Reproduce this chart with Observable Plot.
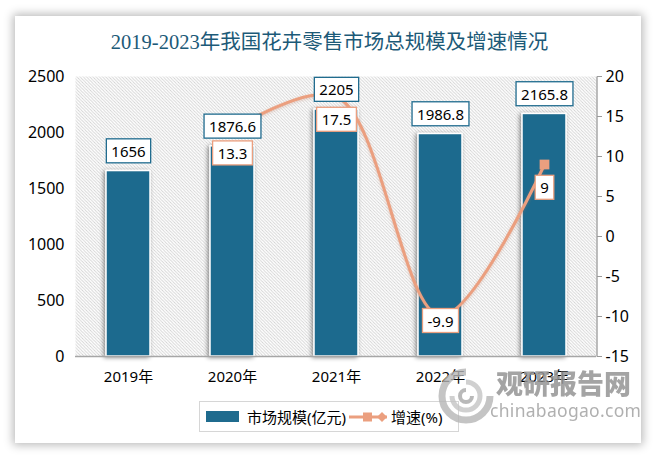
<!DOCTYPE html>
<html>
<head>
<meta charset="utf-8">
<script src="https://cdn.jsdelivr.net/npm/d3@7"></script>
<script src="https://cdn.jsdelivr.net/npm/@observablehq/plot@0.6"></script>
<style>
  html, body { margin: 0; padding: 0; background: #ffffff; }
  body { width: 659px; height: 458px; position: relative; overflow: hidden; font-family: "Noto Sans", "Noto Sans CJK SC", sans-serif; }
  #card { position: absolute; left: 15px; top: 16px; width: 626px; height: 427px; background: #fff; box-shadow: 0 0 9px 2px rgba(0,0,0,0.28); }
  #title { position: absolute; left: 0; top: 29px; width: 659px; text-align: center; font-family: "Liberation Serif", "Noto Sans CJK SC", serif; font-size: 20.5px; line-height: 26px; color: #1c5a78; }
  #chart { position: absolute; left: 0; top: 0; }
  #legend { position: absolute; left: 199px; top: 401px; width: 258px; height: 29px; border: 1px solid #d6d6d6; display: flex; align-items: center; font-size: 15px; color: #000; font-family: "Noto Sans", "Noto Sans CJK SC", sans-serif; }
  #legend .sw { width: 33px; height: 11px; background: #1f6b8e; margin-left: 6px; margin-right: 8px; }
  #wm { position: absolute; left: 436px; top: 364px; width: 200px; height: 60px; pointer-events: none; }
  #wm .big { position: absolute; left: 60px; top: 4px; font-family: "Noto Sans CJK SC", sans-serif; font-weight: 900; font-size: 27px; line-height: 30px; color: #959595; opacity: 0.85; letter-spacing: 0px; white-space: nowrap; }
  #wm .small { position: absolute; left: 54px; top: 36px; font-family: "Noto Sans", sans-serif; font-size: 17.5px; line-height: 20px; color: #a3a3a3; opacity: 0.85; letter-spacing: 0.3px; white-space: nowrap; }
</style>
</head>
<body>
<div id="card"></div>
<div id="chart"></div>
<div id="title">2019-2023年我国花卉零售市场总规模及增速情况</div>
<div id="legend">
  <div class="sw"></div><span>市场规模(亿元)</span>
  <svg width="40" height="14" style="margin-left:3px;margin-right:2px">
    <line x1="0" y1="7" x2="38" y2="7" stroke="#eb9f7f" stroke-width="3"></line>
    <rect x="14" y="2.5" width="9" height="9" fill="#eb9f7f"></rect>
    <path d="M33,2 L38,7 L33,12 L28,7 Z" fill="#eb9f7f"></path>
  </svg><span>增速(%)</span>
</div>
<div id="wm">
  <svg width="60" height="60" style="position:absolute;left:0;top:2px">
    <path d="M30,6 A24,24 0 1,0 54,30" fill="none" stroke="#b5b5b5" stroke-width="7" opacity="0.8"></path>
    <path d="M30,16 A14,14 0 1,1 16,30" fill="none" stroke="#c4c4c4" stroke-width="5" opacity="0.8"></path>
    <path d="M30,24 A6,6 0 1,0 36,30" fill="none" stroke="#a8a8a8" stroke-width="4" opacity="0.8"></path>
  </svg>
  <div class="big">观研报告网</div>
  <div class="small">chinabaogao.com</div>
</div>
<script>
const years = ["2019年", "2020年", "2021年", "2022年", "2023年"];
const marketSize = [1656, 1876.6, 2205, 1986.8, 2165.8];
const growthRate = [null, 13.3, 17.5, -9.9, 9];
const leftTicks = [0, 500, 1000, 1500, 2000, 2500];
const rightTicks = [-15, -10, -5, 0, 5, 10, 15, 20];

const rMin = -15, rMax = 20, lMax = 2500;
const toLeft = g => (g - rMin) / (rMax - rMin) * lMax;
const toRight = v => Math.round(v / lMax * (rMax - rMin) + rMin);

const bars = years.map((y, i) => ({year: y, value: marketSize[i]}));
const growth = years.map((y, i) => ({year: y, g: growthRate[i]})).filter(d => d.g !== null);

const BAR = "#1f6b8e", LINE = "#eb9f7f";
const fmt = v => String(v);

const plot = Plot.plot({
  width: 659,
  height: 395,
  marginLeft: 75,
  marginRight: 63,
  marginTop: 76,
  marginBottom: 39,
  x: {domain: years, paddingInner: 0.58, paddingOuter: 0.29},
  y: {domain: [0, lMax]},
  style: {fontFamily: '"Noto Sans", "Noto Sans CJK SC", sans-serif', fontSize: "15px", color: "#000", background: "transparent", overflow: "visible"},
  marks: [
    Plot.frame({fill: "white", stroke: null, className: "hatchbg"}),
    Plot.barY(bars, {x: "year", y: "value", fill: BAR, stroke: "white", strokeWidth: 1.5, className: "bars"}),
    Plot.ruleY([0], {stroke: "#a6a6a6", strokeWidth: 1.3}),
    Plot.axisY(leftTicks, {anchor: "left", tickFormat: d => String(d), tickSize: 0, tickPadding: 11, label: null, fontSize: 16, className: "laxis"}),
    Plot.axisY(rightTicks.map(toLeft), {anchor: "right", tickFormat: toRight, tickSize: 5, tickPadding: 4, stroke: "#9a9a9a", label: null, fontSize: 16, className: "raxis"}),
    Plot.axisX({tickSize: 0, tickPadding: 15, label: null, fontSize: 15}),
    Plot.line(growth, {x: "year", y: d => toLeft(d.g), stroke: LINE, strokeWidth: 3, curve: "catmull-rom", className: "gline"}),
    Plot.dot(growth, {x: "year", y: d => toLeft(d.g), symbol: "square", r: 5.5, fill: LINE, stroke: null}),
    Plot.text(bars, {x: "year", y: "value", text: d => fmt(d.value), dy: -19, fontSize: 15, fill: "#000", className: "barlab"}),
    Plot.text(growth, {filter: d => d.g >= 0, x: "year", y: d => toLeft(d.g), text: d => fmt(d.g), dy: 24, fontSize: 15, fill: "#000", className: "glab"}),
    Plot.text(growth, {filter: d => d.g < 0, x: "year", y: d => toLeft(d.g), text: d => fmt(d.g), dy: 6, fontSize: 15, fill: "#000", className: "glab"})
  ]
});

document.getElementById("chart").appendChild(plot);

const svg = d3.select(plot);
const defs = svg.insert("defs", ":first-child");
const pat = defs.append("pattern").attr("id", "hatch").attr("patternUnits", "userSpaceOnUse").attr("width", 3.2).attr("height", 3.2);
pat.append("rect").attr("width", 3.2).attr("height", 3.2).attr("fill", "#ffffff");
pat.append("path").attr("d", "M-0.8,-0.8 L4,4 M2.4,-0.8 L4,0.8 M-0.8,2.4 L0.8,4").attr("stroke", "#d4d4d4").attr("stroke-width", 0.9);
const f = defs.append("filter").attr("id", "shadow").attr("x", "-30%").attr("y", "-10%").attr("width", "160%").attr("height", "120%");
f.append("feDropShadow").attr("dx", -1.5).attr("dy", 1).attr("stdDeviation", 2.2).attr("flood-color", "#000").attr("flood-opacity", 0.45);
const f2 = defs.append("filter").attr("id", "glow").attr("x", "-20%").attr("y", "-20%").attr("width", "140%").attr("height", "140%");
f2.append("feDropShadow").attr("dx", 0).attr("dy", 1).attr("stdDeviation", 1.5).attr("flood-color", "#c07050").attr("flood-opacity", 0.35);

svg.selectAll(".hatchbg, .hatchbg rect").attr("fill", "url(#hatch)");
svg.selectAll(".bars").attr("filter", "url(#shadow)");
svg.selectAll(".gline").attr("filter", "url(#glow)");

// right axis line
const yS = plot.scale("y");
const xr = 659 - 63;
svg.select(".raxis").append("line").attr("x1", xr).attr("x2", xr)
  .attr("y1", yS.apply(lMax)).attr("y2", yS.apply(0))
  .attr("stroke", "#9a9a9a").attr("stroke-width", 1.3);

function boxLabels(cls, color) {
  svg.selectAll("." + cls + " text").each(function() {
    const b = this.getBBox();
    const px = 5, py = 2;
    const r = d3.select(this.parentNode).insert("rect", () => this)
      .attr("x", b.x - px).attr("y", b.y - py)
      .attr("width", b.width + 2 * px).attr("height", b.height + 2 * py)
      .attr("fill", "white").attr("stroke", color).attr("stroke-width", 1.3);
    const t = this.getAttribute("transform");
    if (t) r.attr("transform", t);
  });
}
boxLabels("barlab", BAR);
boxLabels("glab", LINE);
</script>
</body>
</html>
